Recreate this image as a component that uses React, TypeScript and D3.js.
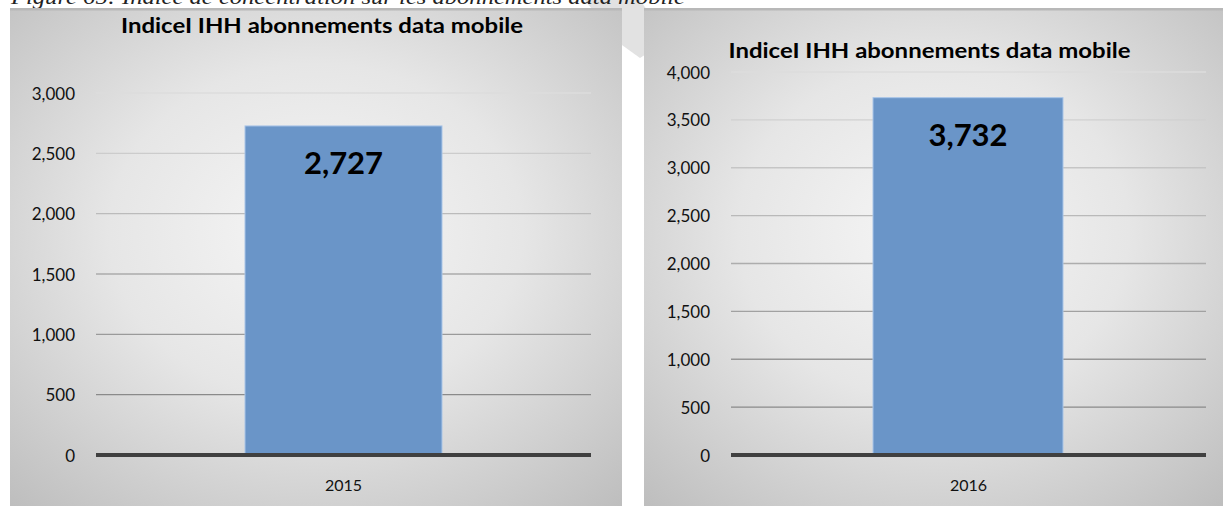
import React from "react";
import * as d3 from "d3";

const caption = "Figure 65: Indice de concentration sur les abonnements data mobile";
const chartTitle = "IndiceI IHH abonnements data mobile";
const years = ["2015", "2016"];
const values = [2727, 3732];
const axisMax = [3000, 4000];
const tickStep = 500;

const fmt = d3.format(",");

type PanelProps = {
  idx: number;
  x0: number;
  x1: number;
  titleY: number;
  plotTop: number;
  plotBottom: number;
  plotLeft: number;
  plotRight: number;
  labelRight: number;
  barLeft: number;
  barRight: number;
};

function Panel(p: PanelProps) {
  const y = d3.scaleLinear().domain([0, axisMax[p.idx]]).range([p.plotBottom, p.plotTop]);
  const x = d3
    .scaleBand()
    .domain([years[p.idx]])
    .range([p.plotLeft, p.plotRight]);
  const ticks = d3.range(0, axisMax[p.idx] + 1, tickStep);
  const gridColor = d3
    .scaleLinear<string>()
    .domain([tickStep, axisMax[p.idx]])
    .range(["#8a8a8a", "#dcdcdc"]);
  const v = values[p.idx];
  const cx = (p.barLeft + p.barRight) / 2;
  const gid = `bg${p.idx}`;
  return (
    <g>
      <defs>
        <radialGradient id={gid} cx="50%" cy="45%" r="75%">
          <stop offset="0%" stopColor="#f6f6f6" />
          <stop offset="45%" stopColor="#e6e6e6" />
          <stop offset="100%" stopColor="#bdbdbd" />
        </radialGradient>
      </defs>
      <rect x={p.x0} y={8} width={p.x1 - p.x0} height={506 - 8} fill={`url(#${gid})`} />
      <rect x={p.x0} y={8} width={p.x1 - p.x0} height={2.5} fill="#b8b8b8" />
      <text
        x={(p.x0 + p.x1) / 2 + (p.idx === 0 ? 6 : -4)}
        y={p.titleY}
        textAnchor="middle"
        dominantBaseline="central"
        fontFamily="Lato, 'Open Sans', sans-serif"
        fontWeight="bold"
        fontSize={21}
        fill="#000"
        textLength={402}
        lengthAdjust="spacingAndGlyphs"
      >
        {chartTitle}
      </text>
      {ticks.map((t) => (
        <g key={t}>
          {t > 0 && (
            <line
              x1={p.plotLeft}
              x2={p.plotRight}
              y1={y(t)}
              y2={y(t)}
              stroke={gridColor(t)}
              strokeWidth={1.3}
            />
          )}
          <text
            x={p.labelRight}
            y={y(t)}
            textAnchor="end"
            dominantBaseline="central"
            fontFamily="Lato, 'Open Sans', sans-serif"
            fontSize={17}
            fill="#111"
          >
            {fmt(t)}
          </text>
        </g>
      ))}
      <rect
        x={p.barLeft}
        y={y(v)}
        width={p.barRight - p.barLeft}
        height={y(0) - y(v)}
        fill="#6a95c8"
        stroke="#a9c5e8"
        strokeWidth={1}
      />
      <line
        x1={p.plotLeft}
        x2={p.plotRight}
        y1={y(0)}
        y2={y(0)}
        stroke="#404040"
        strokeWidth={4}
      />
      <text
        x={cx}
        y={y(v) + 36}
        textAnchor="middle"
        dominantBaseline="central"
        fontFamily="Lato, 'Open Sans', sans-serif"
        fontWeight="bold"
        fontSize={31}
        fill="#000"
      >
        {fmt(v)}
      </text>
      <text
        x={(x(years[p.idx]) ?? 0) + x.bandwidth() / 2}
        y={484}
        textAnchor="middle"
        dominantBaseline="central"
        fontFamily="Lato, 'Open Sans', sans-serif"
        fontSize={16}
        fill="#111"
      >
        {years[p.idx]}
      </text>
    </g>
  );
}

export default function App() {
  return (
    <svg
      width={1223}
      height={506}
      style={{ position: "absolute", left: 0, top: 0, background: "#fff" }}
    >
      <polygon points="585,0 640,0 668,40 640,58 615,40" fill="#e2e2e2" />
      <text
        x={11}
        y={4}
        fontFamily="'Liberation Serif', 'DejaVu Serif', serif"
        fontStyle="italic"
        fontSize={20}
        fill="#222"
        textLength={674}
        lengthAdjust="spacingAndGlyphs"
      >
        {caption}
      </text>
      <Panel
        idx={0}
        x0={10}
        x1={622}
        titleY={24}
        plotTop={93}
        plotBottom={455}
        plotLeft={96}
        plotRight={591}
        labelRight={75}
        barLeft={245}
        barRight={442}
      />
      <Panel
        idx={1}
        x0={644}
        x1={1223}
        titleY={49}
        plotTop={72}
        plotBottom={455}
        plotLeft={731}
        plotRight={1206}
        labelRight={710}
        barLeft={873}
        barRight={1063}
      />
    </svg>
  );
}
